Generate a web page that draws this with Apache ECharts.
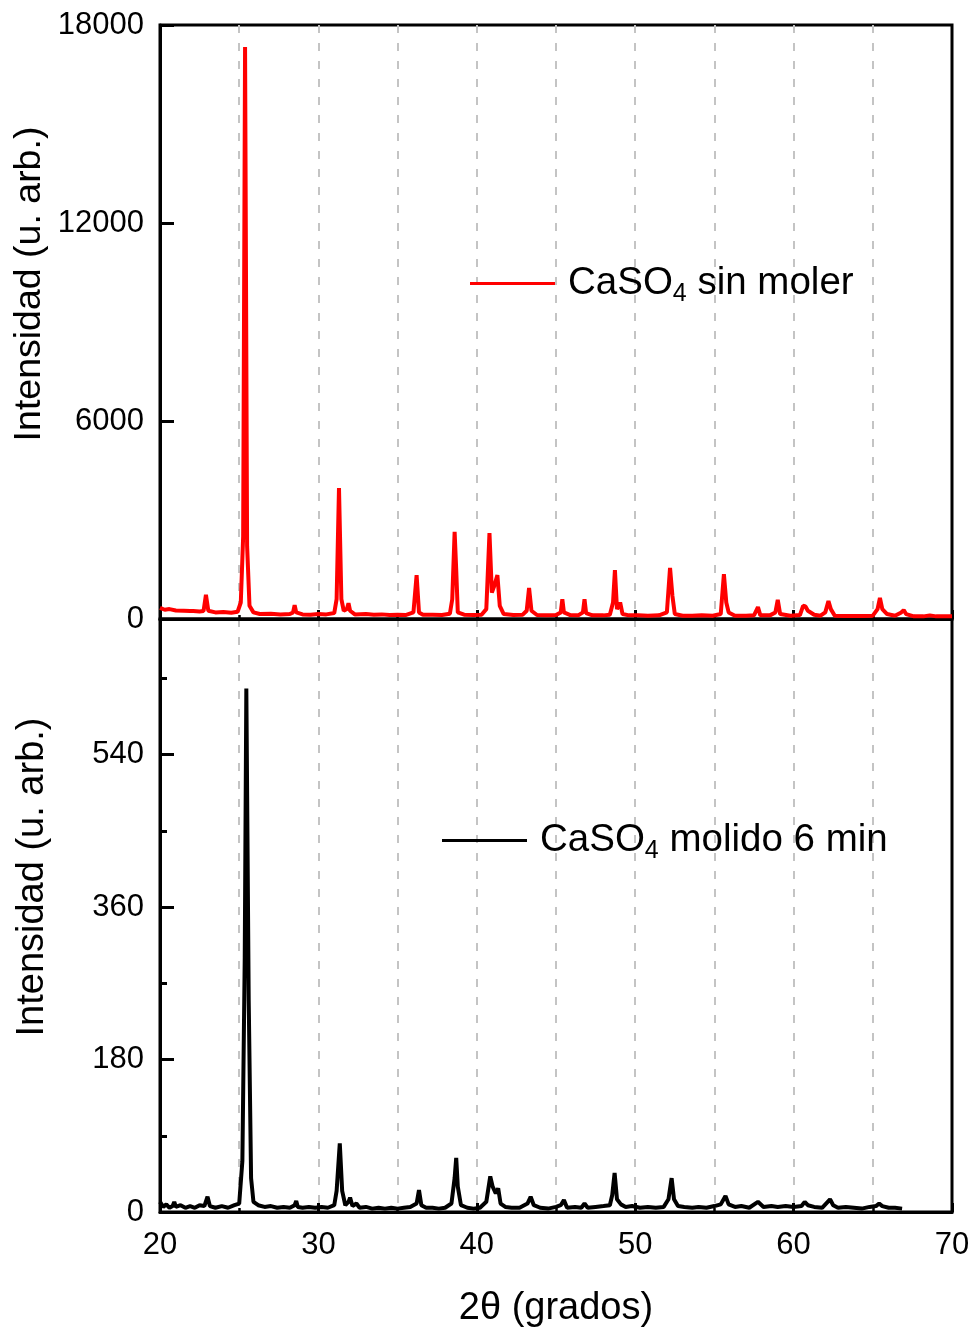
<!DOCTYPE html>
<html>
<head>
<meta charset="utf-8">
<script src="https://cdn.jsdelivr.net/npm/echarts@6/dist/echarts.min.js"></script>
<style>
html,body{margin:0;padding:0;background:#fff;}
#chart{width:973px;height:1331px;}
</style>
</head>
<body>
<div id="chart"></div>
<script>
// ---- Data (2θ in degrees, intensity in arb. units) ----
const ttSin = [20.0,20.3,20.6,21.0,21.5,21.9,22.0,22.1,22.5,22.75,22.9,23.05,23.5,24.0,24.5,24.9,25.1,25.25,25.37,25.5,25.65,25.9,26.3,27.0,27.6,28.2,28.4,28.5,28.6,29.0,29.5,30.0,30.5,31.0,31.15,31.3,31.45,31.6,31.8,31.9,32.0,32.3,33.0,33.5,34.0,34.5,35.0,35.5,36.0,36.2,36.35,36.6,37.2,37.8,38.3,38.45,38.6,38.7,38.8,39.2,39.8,40.3,40.6,40.8,40.95,41.1,41.3,41.45,41.7,42.3,42.9,43.15,43.3,43.45,43.8,44.4,45.0,45.3,45.4,45.5,45.9,46.4,46.7,46.8,46.9,47.3,48.0,48.4,48.6,48.72,48.85,49.05,49.2,49.6,50.2,50.8,51.5,52.0,52.2,52.35,52.5,53.0,53.6,54.2,54.9,55.4,55.6,55.75,55.9,56.3,57.0,57.5,57.75,57.9,58.5,58.85,59.0,59.15,59.8,60.4,60.6,60.75,60.9,61.3,61.7,62.0,62.2,62.35,62.6,63.2,63.8,64.4,65.0,65.3,65.45,65.6,65.9,66.4,66.8,66.95,67.1,67.6,68.2,68.6,69.0,69.5,70.0];
const intSin = [340,280,300,260,250,240,300,240,230,240,730,250,200,210,190,220,500,2500,17330,2200,400,200,150,160,140,150,200,420,200,140,130,150,140,180,600,3970,600,250,300,480,250,140,150,130,140,120,130,120,200,1330,200,130,130,120,160,600,2640,1500,200,130,120,130,300,2600,800,1000,1330,400,150,120,130,250,940,250,120,110,120,200,600,200,120,110,200,600,180,110,110,130,500,1480,300,500,150,110,110,100,110,200,1550,700,150,100,100,110,100,150,1360,500,200,100,100,110,360,110,110,200,580,150,100,120,400,380,250,130,100,200,545,300,100,90,90,90,100,300,640,300,150,100,200,270,150,80,80,110,80,80,80];

const ttMol = [20.0,20.2,20.4,20.6,20.8,20.9,21.0,21.3,21.6,21.9,22.2,22.5,22.8,23.0,23.15,23.5,23.9,24.3,24.7,25.0,25.2,25.35,25.45,25.6,25.75,25.9,26.2,26.6,27.0,27.4,27.8,28.2,28.5,28.6,28.7,29.0,29.4,29.8,30.2,30.6,31.0,31.15,31.35,31.5,31.7,31.9,32.0,32.15,32.4,32.6,33.0,33.4,33.8,34.2,34.6,35.0,35.4,35.8,36.2,36.35,36.5,36.8,37.2,37.6,38.0,38.4,38.6,38.7,38.8,39.0,39.4,39.8,40.2,40.6,40.85,41.0,41.2,41.35,41.5,41.8,42.2,42.7,43.2,43.4,43.6,44.0,44.5,45.0,45.3,45.5,45.7,46.2,46.6,46.8,47.0,47.5,48.0,48.4,48.55,48.7,48.85,49.1,49.4,49.8,50.3,50.8,51.3,51.8,52.1,52.3,52.45,52.7,53.1,53.6,54.0,54.5,55.0,55.4,55.7,55.9,56.3,56.7,57.2,57.75,58.1,58.6,59.0,59.5,60.0,60.5,60.7,60.9,61.3,61.8,62.3,62.5,62.8,63.3,63.8,64.3,64.8,65.2,65.4,65.6,66.0,66.4,66.85];
const intMol = [12,6,9,5,7,12,6,8,5,7,5,8,7,18,7,5,7,5,8,10,60,300,618,250,40,12,8,6,7,5,6,5,8,13,6,5,6,5,6,5,8,25,81,25,8,12,17,7,10,5,6,4,5,4,5,4,5,6,10,26,8,5,5,4,5,10,40,64,30,8,5,4,5,12,42,30,22,28,10,6,5,5,10,18,8,5,4,6,8,14,5,6,5,10,5,6,7,8,20,46,15,9,6,7,5,6,5,6,15,40,15,7,6,5,6,5,7,9,19,9,6,7,5,12,6,7,6,7,6,7,12,8,6,5,15,8,5,6,5,4,6,7,10,7,5,5,4];

const topTicks = [0, 6000, 12000, 18000];
const botTicks = [0, 180, 360, 540];
const botMinorTicks = [90, 270, 450, 630];
const xTicks = [20, 30, 40, 50, 60, 70];

const nameSin = 'CaSO4 sin moler';
const nameMol = 'CaSO4 molido 6 min';

// ---- Chart ----
const FONT = "'Liberation Sans', Arial, sans-serif";
const pair = (xs, ys) => xs.map((x, i) => [x, ys[i]]);
const plain = v => String(v);
const chart = echarts.init(document.getElementById('chart'), null, {renderer: 'canvas'});

const gridLine = {show: true, showMinLine: false, showMaxLine: false,
  lineStyle: {color: '#c4c4c4', width: 2, type: [8, 10]}};
const xCommon = {
  type: 'value', min: 20, max: 70, interval: 10,
  axisLine: {show: true, onZero: false, lineStyle: {color: '#000', width: 3}},
  axisTick: {show: true, inside: true, length: 9, lineStyle: {color: '#000', width: 3}},
  minorTick: {show: true, splitNumber: 2, length: 4, lineStyle: {color: '#000', width: 2.5}},
  splitLine: gridLine,
  minorSplitLine: gridLine
};

const option = {
  animation: false,
  backgroundColor: '#fff',
  textStyle: {fontFamily: FONT},
  grid: [
    {left: 160, right: 21, top: 25, height: 594, show: true, borderColor: '#000', borderWidth: 3, backgroundColor: 'transparent'},
    {left: 160, right: 21, top: 619, height: 593, show: true, borderColor: '#000', borderWidth: 3, backgroundColor: 'transparent'}
  ],
  xAxis: [
    Object.assign({}, xCommon, {gridIndex: 0, position: 'bottom', axisLabel: {show: false}}),
    Object.assign({}, xCommon, {
      gridIndex: 1, position: 'bottom',
      axisLabel: {show: true, fontSize: 31, color: '#000', fontFamily: FONT, margin: 18,
        customValues: xTicks, formatter: plain},
      name: '2θ (grados)', nameLocation: 'middle', nameGap: 78,
      nameTextStyle: {fontSize: 38, color: '#000', fontFamily: FONT}
    })
  ],
  yAxis: [
    {
      type: 'value', gridIndex: 0, min: 0, max: 18000, interval: 6000,
      axisLine: {show: true, lineStyle: {color: '#000', width: 3}},
      axisTick: {show: true, inside: true, length: 14, lineStyle: {color: '#000', width: 3}},
      axisLabel: {fontSize: 31, color: '#000', fontFamily: FONT, margin: 16, customValues: topTicks, formatter: plain},
      splitLine: {show: false}
    },
    {
      type: 'value', gridIndex: 1, min: 0, max: 700, interval: 180,
      axisLine: {show: true, lineStyle: {color: '#000', width: 3}},
      axisTick: {show: true, inside: true, length: 14, lineStyle: {color: '#000', width: 3},
        customValues: botTicks},
      axisLabel: {fontSize: 31, color: '#000', fontFamily: FONT, margin: 16, customValues: botTicks, formatter: plain},
      splitLine: {show: false}
    },
    {
      type: 'value', gridIndex: 1, min: 0, max: 700, position: 'left',
      axisLine: {show: false},
      axisTick: {show: true, inside: true, length: 7, lineStyle: {color: '#000', width: 3},
        customValues: botMinorTicks},
      axisLabel: {show: false},
      splitLine: {show: false}
    }
  ],
  legend: [
    {
      data: [nameSin], left: 470, top: 264, orient: 'horizontal', padding: 0,
      icon: 'rect', itemWidth: 85, itemHeight: 3,
      formatter: () => '{a|CaSO}{s|4}{a| sin moler}',
      textStyle: {rich: {
        a: {fontSize: 38.5, color: '#000', fontFamily: FONT},
        s: {fontSize: 25, color: '#000', fontFamily: FONT, padding: [22, 0, 0, 0]}
      }, padding: [0, 0, 0, 8]}
    },
    {
      data: [nameMol], left: 442, top: 821, orient: 'horizontal', padding: 0,
      icon: 'rect', itemWidth: 85, itemHeight: 3,
      formatter: () => '{a|CaSO}{s|4}{a| molido 6 min}',
      textStyle: {rich: {
        a: {fontSize: 38.5, color: '#000', fontFamily: FONT},
        s: {fontSize: 25, color: '#000', fontFamily: FONT, padding: [22, 0, 0, 0]}
      }, padding: [0, 0, 0, 8]}
    }
  ],
  graphic: [
    {type: 'text', x: 30, y: 284, rotation: Math.PI / 2, z: 10,
      style: {text: 'Intensidad (u. arb.)', font: '37.5px ' + FONT, fill: '#000', align: 'center', verticalAlign: 'middle'}},
    {type: 'text', x: 33, y: 877, rotation: Math.PI / 2, z: 10,
      style: {text: 'Intensidad (u. arb.)', font: '38px ' + FONT, fill: '#000', align: 'center', verticalAlign: 'middle'}}
  ],
  series: [
    {name: nameSin, type: 'line', xAxisIndex: 0, yAxisIndex: 0, data: pair(ttSin, intSin),
      showSymbol: false, symbol: 'none', color: '#ff0000', lineStyle: {width: 4, color: '#ff0000'}, z: 3},
    {name: nameMol, type: 'line', xAxisIndex: 1, yAxisIndex: 1, data: pair(ttMol, intMol),
      showSymbol: false, symbol: 'none', color: '#000', lineStyle: {width: 4, color: '#000'}, z: 3}
  ]
};
chart.setOption(option);
</script>
</body>
</html>
